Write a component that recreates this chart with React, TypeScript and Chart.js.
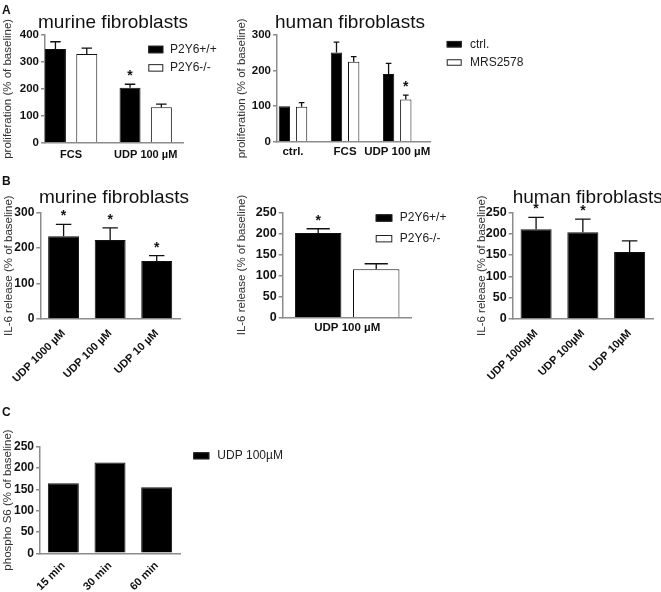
import React, { useEffect, useRef } from 'react';
import { Chart, registerables } from 'chart.js';

Chart.register(...registerables);

const PAGE_W = 661;
const PAGE_H = 592;
const FAMILY = '"Liberation Sans", Arial, Helvetica, sans-serif';
const AXIS_COLOR = '#8c8c8c';
const INK = '#111111';

// ---------- Panel A: proliferation, murine fibroblasts ----------
const aMurineCategories = ['FCS', 'UDP 100 µM'];
const aMurineWT = [348, 204];
const aMurineWTErr = [27, 13];
const aMurineWTStars = [false, true];
const aMurineKO = [329, 132];
const aMurineKOErr = [22, 11];
const aMurineKOStars = [false, false];
const aMurineYMax = 400;
const aMurineYStep = 100;

// ---------- Panel A: proliferation, human fibroblasts ----------
const aHumanCategories = ['ctrl.', 'FCS', 'UDP 100 µM'];
const aHumanCtrl = [100, 251, 190];
const aHumanCtrlErr = [0, 29, 30];
const aHumanCtrlStars = [false, false, false];
const aHumanMRS = [98, 225, 119];
const aHumanMRSErr = [12, 14, 12];
const aHumanMRSStars = [false, false, true];
const aHumanYMax = 300;
const aHumanYStep = 100;

// ---------- Panel B: IL-6 release, murine fibroblasts ----------
const bMurineCategories = ['UDP 1000 µM', 'UDP 100 µM', 'UDP 10 µM'];
const bMurineValues = [233, 222, 163];
const bMurineErr = [33, 34, 15];
const bMurineStars = [true, true, true];
const bMurineYMax = 300;
const bMurineYStep = 100;

// ---------- Panel B: IL-6 release, P2Y6 knockout ----------
const bKnockCategories = ['UDP 100 µM'];
const bKnockWT = [201];
const bKnockWTErr = [10];
const bKnockWTStars = [true];
const bKnockKO = [115];
const bKnockKOErr = [13];
const bKnockKOStars = [false];
const bKnockYMax = 250;
const bKnockYStep = 50;

// ---------- Panel B: IL-6 release, human fibroblasts ----------
const bHumanCategories = ['UDP 1000µM', 'UDP 100µM', 'UDP 10µM'];
const bHumanValues = [210, 203, 157];
const bHumanErr = [28, 31, 26];
const bHumanStars = [true, true, false];
const bHumanYMax = 250;
const bHumanYStep = 50;

// ---------- Panel C: phospho S6 ----------
const cCategories = ['15 min', '30 min', '60 min'];
const cValues = [164, 213, 155];
const cYMax = 250;
const cYStep = 50;

type Series = {
  label: string;
  values: number[];
  errors?: number[];
  stars?: boolean[];
  fill: string;
};

type Panel = {
  labels: string[];
  series: Series[];
  yMax: number;
  yStep: number;
  yTitle: string;
  area: { l: number; t: number; r: number; b: number };
  yTitleX: number;
  xLinear?: { min: number; max: number };
  categoryPercentage: number;
  barPercentage: number;
  xRotation: number;
  xPad: number;
  xFont: number;
  yFont: number;
  title?: { text: string; x: number; y: number };
  letter?: { text: string; x: number; y: number };
  legend?: { x: number; y: number; gap: number; w: number; h: number; textGap: number };
};

const PANELS: Panel[] = [
  {
    labels: aMurineCategories,
    series: [
      { label: 'P2Y6+/+', values: aMurineWT, errors: aMurineWTErr, stars: aMurineWTStars, fill: '#000000' },
      { label: 'P2Y6-/-', values: aMurineKO, errors: aMurineKOErr, stars: aMurineKOStars, fill: '#ffffff' },
    ],
    yMax: aMurineYMax,
    yStep: aMurineYStep,
    yTitle: 'proliferation (% of baseline)',
    area: { l: 45, t: 35, r: 183, b: 142.7 },
    yTitleX: 7.5,
    xLinear: { min: -0.35, max: 1.5 },
    categoryPercentage: 0.84,
    barPercentage: 0.67,
    xRotation: 0,
    xPad: 6,
    xFont: 11,
    yFont: 11.5,
    title: { text: 'murine fibroblasts', x: 38, y: 28 },
    letter: { text: 'A', x: 2, y: 13.5 },
    legend: { x: 148.3, y: 49.5, gap: 18.4, w: 15, h: 7.5, textGap: 6.7 },
  },
  {
    labels: aHumanCategories,
    series: [
      { label: 'ctrl.', values: aHumanCtrl, errors: aHumanCtrlErr, stars: aHumanCtrlStars, fill: '#000000' },
      { label: 'MRS2578', values: aHumanMRS, errors: aHumanMRSErr, stars: aHumanMRSStars, fill: '#ffffff' },
    ],
    yMax: aHumanYMax,
    yStep: aHumanYStep,
    yTitle: 'proliferation (% of baseline)',
    area: { l: 277, t: 35, r: 430, b: 141.7 },
    yTitleX: 241.7,
    xLinear: { min: -0.307, max: 2.63 },
    categoryPercentage: 0.66,
    barPercentage: 0.66,
    xRotation: 0,
    xPad: 3,
    xFont: 11.5,
    yFont: 11.5,
    title: { text: 'human fibroblasts', x: 275, y: 28 },
    legend: { x: 446.7, y: 44.2, gap: 18.3, w: 15, h: 6.5, textGap: 8.3 },
  },
  {
    labels: bMurineCategories,
    series: [
      { label: 'UDP', values: bMurineValues, errors: bMurineErr, stars: bMurineStars, fill: '#000000' },
    ],
    yMax: bMurineYMax,
    yStep: bMurineYStep,
    yTitle: 'IL-6 release (% of baseline)',
    area: { l: 39.5, t: 212.3, r: 180, b: 319 },
    yTitleX: 8,
    categoryPercentage: 0.8,
    barPercentage: 0.83,
    xRotation: 45,
    xPad: 8,
    xFont: 11,
    yFont: 12,
    title: { text: 'murine fibroblasts', x: 39, y: 203 },
    letter: { text: 'B', x: 2, y: 185 },
  },
  {
    labels: bKnockCategories,
    series: [
      { label: 'P2Y6+/+', values: bKnockWT, errors: bKnockWTErr, stars: bKnockWTStars, fill: '#000000' },
      { label: 'P2Y6-/-', values: bKnockKO, errors: bKnockKOErr, stars: bKnockKOStars, fill: '#ffffff' },
    ],
    yMax: bKnockYMax,
    yStep: bKnockYStep,
    yTitle: 'IL-6 release (% of baseline)',
    area: { l: 282.7, t: 212.3, r: 411.7, b: 317.7 },
    yTitleX: 241.7,
    categoryPercentage: 0.9,
    barPercentage: 0.8,
    xRotation: 0,
    xPad: 3,
    xFont: 11.5,
    yFont: 12.5,
    legend: { x: 375.7, y: 218, gap: 20.7, w: 16.6, h: 7.4, textGap: 7.4 },
  },
  {
    labels: bHumanCategories,
    series: [
      { label: 'UDP', values: bHumanValues, errors: bHumanErr, stars: bHumanStars, fill: '#000000' },
    ],
    yMax: bHumanYMax,
    yStep: bHumanYStep,
    yTitle: 'IL-6 release (% of baseline)',
    area: { l: 512.7, t: 212.3, r: 653, b: 319 },
    yTitleX: 481.7,
    categoryPercentage: 0.8,
    barPercentage: 0.83,
    xRotation: 45,
    xPad: 8,
    xFont: 11,
    yFont: 12.5,
    title: { text: 'human fibroblasts', x: 512.7, y: 203 },
  },
  {
    labels: cCategories,
    series: [{ label: 'UDP 100µM', values: cValues, fill: '#000000' }],
    yMax: cYMax,
    yStep: cYStep,
    yTitle: 'phospho S6 (% of baseline)',
    area: { l: 40, t: 446.7, r: 180, b: 553.3 },
    yTitleX: 8.3,
    categoryPercentage: 0.8,
    barPercentage: 0.83,
    xRotation: 45,
    xPad: 6,
    xFont: 11,
    yFont: 12,
    letter: { text: 'C', x: 2, y: 415.5 },
    legend: { x: 193.3, y: 455.8, gap: 0, w: 16, h: 7, textGap: 8 },
  },
];

const decorPlugin = {
  id: 'figureDecor',
  afterDatasetsDraw(chart: any, _args: any, opts: any) {
    const ctx = chart.ctx;
    const yScale = chart.scales.y;
    chart.data.datasets.forEach((ds: any, i: number) => {
      const meta = chart.getDatasetMeta(i);
      meta.data.forEach((el: any, j: number) => {
        const raw = ds.data[j];
        const v = typeof raw === 'number' ? raw : raw.y;
        const err = ds.errors ? ds.errors[j] : 0;
        const topPx = yScale.getPixelForValue(v + err);
        if (err > 0) {
          ctx.save();
          ctx.strokeStyle = INK;
          ctx.lineWidth = 1.3;
          ctx.beginPath();
          ctx.moveTo(el.x, el.y);
          ctx.lineTo(el.x, topPx);
          ctx.moveTo(el.x - el.width / 4, topPx);
          ctx.lineTo(el.x + el.width / 4, topPx);
          ctx.stroke();
          ctx.restore();
        }
        if (ds.stars && ds.stars[j]) {
          const size = opts.starSize || 14;
          ctx.save();
          ctx.fillStyle = INK;
          ctx.font = `bold ${size}px ${FAMILY}`;
          ctx.textAlign = 'center';
          ctx.textBaseline = 'alphabetic';
          ctx.fillText('*', el.x, topPx - 12 + 0.57 * size);
          ctx.restore();
        }
      });
    });
  },
  afterDraw(chart: any, _args: any, opts: any) {
    const ctx = chart.ctx;
    ctx.save();
    if (opts.title) {
      ctx.fillStyle = INK;
      ctx.font = `19px ${FAMILY}`;
      ctx.textAlign = 'left';
      ctx.textBaseline = 'alphabetic';
      ctx.fillText(opts.title.text, opts.title.x, opts.title.y);
    }
    if (opts.letter) {
      ctx.fillStyle = INK;
      ctx.font = `bold 12px ${FAMILY}`;
      ctx.textAlign = 'left';
      ctx.textBaseline = 'alphabetic';
      ctx.fillText(opts.letter.text, opts.letter.x, opts.letter.y);
    }
    if (opts.legend) {
      const lg = opts.legend;
      chart.data.datasets.forEach((ds: any, i: number) => {
        const cy = lg.y + i * lg.gap;
        ctx.fillStyle = ds.backgroundColor;
        ctx.fillRect(lg.x, cy - lg.h / 2, lg.w, lg.h);
        ctx.strokeStyle = '#222';
        ctx.lineWidth = 1;
        ctx.strokeRect(lg.x + 0.5, cy - lg.h / 2 + 0.5, lg.w - 1, lg.h - 1);
        ctx.fillStyle = '#222';
        ctx.font = `12px ${FAMILY}`;
        ctx.textAlign = 'left';
        ctx.textBaseline = 'middle';
        ctx.fillText(ds.label, lg.x + lg.w + lg.textGap, cy);
      });
    }
    ctx.restore();
  },
};

function buildConfig(p: Panel): any {
  const yTitleSize = 11.5;
  const lh = yTitleSize * 1.2;
  const padLeft = p.yTitleX - lh / 2;
  const yAxisWidth = p.area.l - padLeft;
  const xAxisHeight = Math.min(75, PAGE_H - p.area.b);
  const tickFontX = { family: FAMILY, size: p.xFont, weight: 'bold' };
  const tickFontY = { family: FAMILY, size: p.yFont, weight: 'bold' };

  const xScale: any = p.xLinear
    ? {
        type: 'linear',
        min: p.xLinear.min,
        max: p.xLinear.max,
        bounds: 'data',
        offset: false,
        afterBuildTicks: (s: any) => {
          s.ticks = p.labels.map((_l, i) => ({ value: i }));
        },
        ticks: {
          callback: (_v: any, i: number) => p.labels[i],
          autoSkip: false,
          maxRotation: 0,
          minRotation: 0,
          padding: p.xPad,
          font: tickFontX,
          color: INK,
        },
      }
    : {
        type: 'category',
        offset: true,
        ticks: {
          autoSkip: false,
          maxRotation: p.xRotation,
          minRotation: p.xRotation,
          padding: p.xPad,
          font: tickFontX,
          color: INK,
        },
      };
  xScale.clip = false;
  xScale.grid = { display: false, drawTicks: false };
  xScale.border = { display: true, color: AXIS_COLOR, width: 1.5 };
  xScale.afterFit = (s: any) => {
    s.height = xAxisHeight;
  };

  return {
    type: 'bar',
    data: {
      labels: p.labels,
      datasets: p.series.map((s) => ({
        label: s.label,
        data: p.xLinear ? s.values.map((v, i) => ({ x: i, y: v })) : s.values,
        backgroundColor: s.fill,
        borderColor: INK,
        borderWidth: 1,
        categoryPercentage: p.categoryPercentage,
        barPercentage: p.barPercentage,
        errors: s.errors,
        stars: s.stars,
      })),
    },
    options: {
      responsive: false,
      maintainAspectRatio: false,
      animation: false,
      devicePixelRatio: 1,
      events: [],
      layout: {
        padding: {
          left: padLeft,
          top: p.area.t,
          right: PAGE_W - p.area.r,
          bottom: Math.max(0, PAGE_H - p.area.b - xAxisHeight),
        },
      },
      plugins: {
        legend: { display: false },
        tooltip: { enabled: false },
        title: { display: false },
        figureDecor: {
          title: p.title,
          letter: p.letter,
          legend: p.legend,
          starSize: 14,
        },
      },
      scales: {
        x: xScale,
        y: {
          type: 'linear',
          min: 0,
          max: p.yMax,
          clip: false,
          ticks: { stepSize: p.yStep, font: tickFontY, color: INK, padding: 2 },
          grid: {
            display: true,
            drawOnChartArea: false,
            drawTicks: true,
            tickLength: 4,
            color: AXIS_COLOR,
            lineWidth: 1.5,
          },
          border: { display: true, color: AXIS_COLOR, width: 1.5 },
          title: {
            display: true,
            text: p.yTitle,
            font: { family: FAMILY, size: yTitleSize },
            color: '#333333',
            padding: 0,
          },
          afterFit: (s: any) => {
            s.width = yAxisWidth;
          },
        },
      },
    },
    plugins: [decorPlugin],
  };
}

function PanelChart({ panel }: { panel: Panel }) {
  const ref = useRef<HTMLCanvasElement>(null);
  useEffect(() => {
    if (!ref.current) return;
    const chart = new Chart(ref.current, buildConfig(panel));
    return () => chart.destroy();
  }, [panel]);
  return (
    <canvas
      ref={ref}
      width={PAGE_W}
      height={PAGE_H}
      style={{ position: 'absolute', left: 0, top: 0, width: PAGE_W, height: PAGE_H }}
    />
  );
}

export default function App() {
  return (
    <div
      style={{
        position: 'absolute',
        left: 0,
        top: 0,
        width: PAGE_W,
        height: PAGE_H,
        background: '#ffffff',
        overflow: 'hidden',
      }}
    >
      {PANELS.map((p, i) => (
        <PanelChart key={i} panel={p} />
      ))}
    </div>
  );
}
